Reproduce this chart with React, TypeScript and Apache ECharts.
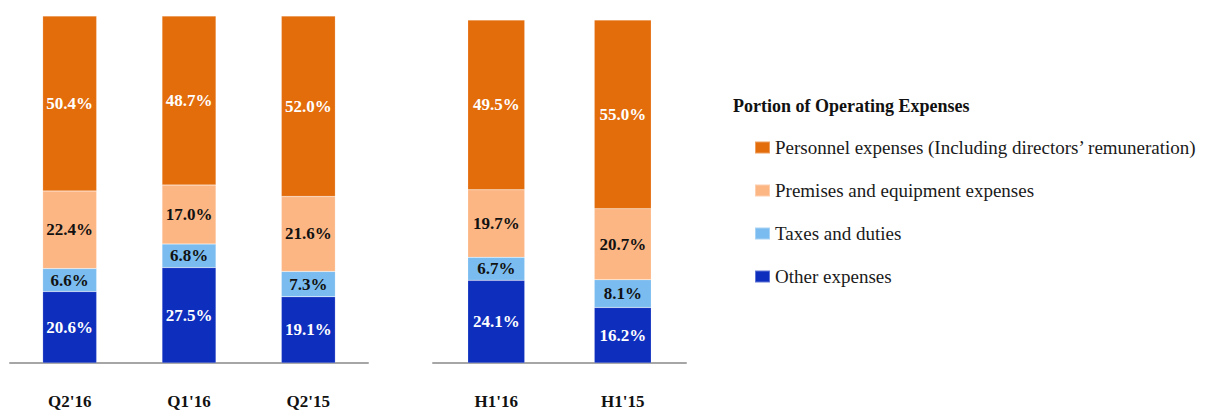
import React, { useEffect, useRef } from "react";
import * as echarts from "echarts";

const quarterCategories = ["Q2'16", "Q1'16", "Q2'15"];
const halfCategories = ["H1'16", "H1'15"];

const seriesNames = [
  "Other expenses",
  "Taxes and duties",
  "Premises and equipment expenses",
  "Personnel expenses (Including directors’ remuneration)",
];
const legendOrder = [
  "Personnel expenses (Including directors’ remuneration)",
  "Premises and equipment expenses",
  "Taxes and duties",
  "Other expenses",
];

// Quarterly values (%), bottom to top
const otherQ = [20.6, 27.5, 19.1];
const taxesQ = [6.6, 6.8, 7.3];
const premisesQ = [22.4, 17.0, 21.6];
const personnelQ = [50.4, 48.7, 52.0];

// Half-year values (%)
const otherH = [24.1, 16.2];
const taxesH = [6.7, 8.1];
const premisesH = [19.7, 20.7];
const personnelH = [49.5, 55.0];

const colors = ["#0E2EBE", "#7ABCEF", "#FCB684", "#E36C0B"];
const labelColors = ["#FFFFFF", "#111111", "#111111", "#FFFFFF"];

const FONT = "'Liberation Serif', 'Times New Roman', serif";

export default function App() {
  const ref = useRef<HTMLDivElement>(null);

  useEffect(() => {
    if (!ref.current) return;
    const chart = echarts.init(ref.current, undefined, { renderer: "svg" });

    const quarterData = [otherQ, taxesQ, premisesQ, personnelQ];
    const halfData = [otherH, taxesH, premisesH, personnelH];

    const makeSeries = (data: number[][], axisIndex: number, stack: string, barWidth: number) =>
      data.map((vals, i) => ({
        name: seriesNames[i],
        type: "bar" as const,
        stack,
        xAxisIndex: axisIndex,
        yAxisIndex: axisIndex,
        barWidth,
        data: vals,
        itemStyle: { color: colors[i], borderColor: "rgba(255,255,255,0.35)", borderWidth: 0.5 },
        label: {
          show: true,
          position: "inside" as const,
          formatter: (p: any) => Number(p.value).toFixed(1) + "%",
          color: labelColors[i],
          fontFamily: FONT,
          fontWeight: "bold" as const,
          fontSize: 17,
        },
        emphasis: { disabled: true },
      }));

    const axisCommon = {
      type: "category" as const,
      axisLine: { show: true, lineStyle: { color: "#A6A6A6", width: 2 } },
      axisTick: { show: false },
      axisLabel: {
        color: "#111111",
        fontFamily: FONT,
        fontWeight: "bold" as const,
        fontSize: 17,
        margin: 30,
      },
    };

    chart.setOption({
      animation: false,
      title: {
        text: "Portion of Operating Expenses",
        left: 728,
        top: 92,
        textStyle: { fontFamily: FONT, fontWeight: "bold", fontSize: 18, color: "#111111" },
      },
      legend: {
        data: legendOrder,
        orient: "vertical",
        left: 749,
        top: 133,
        icon: "rect",
        itemWidth: 15,
        itemHeight: 12,
        itemGap: 24,
        itemTextGap: 17,
        textStyle: { fontFamily: FONT, fontSize: 19, color: "#1a1a1a" },
        selectedMode: false,
      },
      grid: [
        { left: 10, top: 16, width: 358, height: 347 },
        { left: 433, top: 20, width: 253, height: 343 },
      ],
      xAxis: [
        { ...axisCommon, gridIndex: 0, data: quarterCategories },
        { ...axisCommon, gridIndex: 1, data: halfCategories },
      ],
      yAxis: [
        { type: "value", gridIndex: 0, min: 0, max: 100, show: false },
        { type: "value", gridIndex: 1, min: 0, max: 100, show: false },
      ],
      series: [
        ...makeSeries(quarterData, 0, "q", 54),
        ...makeSeries(halfData, 1, "h", 57),
      ],
    });

    return () => chart.dispose();
  }, []);

  return (
    <div
      ref={ref}
      style={{ position: "fixed", left: 0, top: 0, width: 1225, height: 412, background: "#ffffff" }}
    />
  );
}
